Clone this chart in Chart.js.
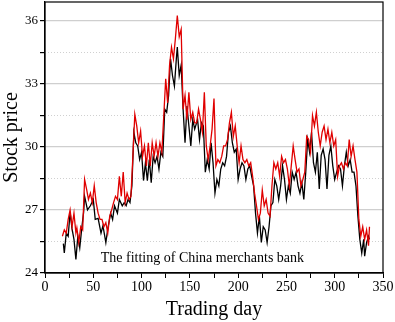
<!DOCTYPE html>
<html>
<head>
<meta charset="utf-8">
<script src="https://cdn.jsdelivr.net/npm/chart.js@4/dist/chart.umd.min.js"></script>
<style>
  html, body { margin: 0; padding: 0; background: #fff; }
  #wrap { width: 395px; height: 322px; }
</style>
</head>
<body>
<div id="wrap"><canvas id="stockChart"></canvas></div>
<script>
// actual closing price (black)
const daysActual = [19, 20, 22, 24, 26, 28, 30, 32, 34, 36, 38, 40, 41, 44, 47, 50, 52, 55, 58, 60,
    63, 65, 68, 70, 72, 75, 77, 80, 82, 84, 86, 88, 90, 92, 94, 96, 98, 100, 102, 104,
    106, 108, 110, 112, 114, 116, 118, 120, 122, 124, 126, 128, 130, 132, 134, 136, 137, 139, 141, 143,
    145, 147, 149, 151, 153, 155, 158, 160, 162, 164, 166, 168, 170, 172, 174, 176, 178, 180, 182, 184,
    186, 188, 190, 192, 194, 196, 198, 200, 202, 204, 206, 208, 210, 212, 214, 216, 218, 220, 222, 224,
    226, 228, 230, 232, 234, 236, 238, 240, 242, 244, 246, 248, 250, 252, 254, 256, 258, 260, 262, 264,
    266, 268, 270, 272, 274, 276, 278, 280, 282, 284, 286, 288, 290, 292, 294, 296, 298, 300, 302, 304,
    306, 308, 310, 312, 314, 316, 318, 320, 322, 324, 326, 328, 330, 331, 333, 335, 336];
const priceActual = [25.4, 24.95, 25.9, 25.75, 26.9, 26.1, 25.6, 24.65, 25.75, 25.2, 26.1, 26.9, 27.65, 27.0, 27.2, 27.5, 26.55, 26.6, 25.9, 26.25,
    25.45, 26.1, 26.85, 26.55, 27.2, 26.85, 27.5, 27.2, 27.35, 27.2, 27.5, 27.35, 28.15, 30.7, 30.2, 30.05, 29.4, 29.75, 28.4, 29.25,
    28.4, 29.4, 28.3, 29.55, 29.25, 29.55, 28.95, 29.75, 29.55, 31.8, 31.65, 32.45, 34.2, 33.4, 32.9, 34.2, 34.75, 33.4, 33.9, 31.8,
    30.2, 31.95, 31.0, 30.05, 31.3, 30.85, 31.3, 30.35, 31.15, 31.0, 28.8, 29.4, 28.95, 30.2, 29.25, 27.8, 28.45, 28.15, 28.95, 29.25,
    29.1, 29.55, 30.7, 31.0, 30.2, 29.75, 29.9, 28.45, 28.95, 29.25, 29.1, 28.45, 28.95, 29.1, 28.6, 28.15, 26.85, 25.9, 26.7, 25.45,
    26.2, 26.05, 25.45, 26.2, 27.2, 27.35, 28.45, 28.15, 27.5, 28.15, 29.1, 28.45, 27.5, 28.15, 27.8, 28.8, 28.45, 28.8, 28.15, 27.8,
    28.3, 27.5, 28.8, 30.35, 29.75, 30.7, 29.25, 28.8, 29.75, 28.0, 29.6, 29.9, 29.4, 28.0, 29.6, 30.05, 29.1, 28.45, 28.8, 29.1,
    28.95, 28.15, 29.1, 29.75, 29.1, 29.4, 28.8, 28.8, 28.15, 26.7, 25.6, 24.95, 25.6, 24.8, 25.45, 25.75, 25.6];

// fitted price (red)
const daysFitted = [18, 20, 22, 24, 26, 28, 30, 32, 33, 35, 37, 39, 41, 43, 45, 47, 49, 51, 53, 55,
    57, 59, 61, 63, 65, 67, 69, 71, 73, 75, 77, 79, 81, 83, 85, 87, 89, 91, 93, 95,
    97, 99, 101, 103, 105, 107, 109, 111, 113, 115, 117, 119, 121, 123, 125, 127, 129, 131, 133, 135,
    137, 139, 141, 143, 145, 147, 149, 151, 153, 155, 157, 159, 161, 163, 165, 167, 169, 171, 173, 175,
    177, 179, 181, 183, 185, 187, 189, 191, 193, 195, 197, 199, 201, 203, 205, 207, 209, 211, 213, 215,
    217, 219, 221, 223, 225, 227, 229, 231, 233, 235, 237, 239, 241, 243, 245, 247, 249, 251, 253, 255,
    257, 259, 261, 263, 265, 267, 269, 271, 273, 275, 277, 279, 281, 283, 285, 287, 289, 291, 293, 295,
    297, 299, 301, 303, 305, 307, 309, 311, 313, 315, 317, 319, 321, 323, 325, 327, 329, 331, 333, 335, 336];
const priceFitted = [25.75, 26.05, 25.9, 26.55, 27.0, 26.2, 26.85, 25.9, 26.15, 25.45, 26.2, 26.05, 28.45, 28.0, 27.5, 27.8, 27.35, 28.15, 27.35, 26.85,
    26.55, 26.55, 26.2, 26.4, 25.9, 26.7, 27.0, 27.35, 27.65, 27.5, 28.6, 27.65, 28.8, 27.35, 27.8, 27.5, 27.65, 29.55, 31.55, 31.0,
    30.2, 30.75, 29.55, 30.05, 29.1, 30.2, 29.1, 30.2, 29.55, 30.2, 29.55, 30.2, 29.75, 31.5, 33.25, 32.1, 33.9, 34.75, 34.2, 35.15,
    36.25, 35.25, 35.6, 31.8, 32.45, 31.3, 32.6, 31.3, 31.65, 31.15, 31.15, 31.8, 31.3, 30.7, 32.6, 30.05, 29.4, 30.05, 30.85, 32.3,
    29.1, 29.4, 29.25, 29.55, 30.05, 30.05, 30.35, 31.15, 31.65, 30.5, 31.0, 30.05, 29.25, 30.05, 29.4, 29.25, 29.4, 29.1, 29.25, 28.6,
    27.8, 27.2, 26.55, 26.85, 27.95, 27.2, 27.5, 26.85, 26.7, 28.15, 29.25, 28.95, 29.25, 28.6, 29.55, 29.25, 29.4, 28.95, 28.15, 29.1,
    30.05, 29.4, 28.8, 28.95, 28.15, 28.45, 28.8, 30.5, 30.35, 29.75, 31.5, 31.0, 31.65, 30.7, 30.05, 30.7, 31.0, 30.35, 30.85, 30.2,
    30.7, 30.05, 30.35, 28.6, 29.1, 29.25, 28.95, 29.25, 29.1, 30.35, 29.55, 30.05, 29.4, 28.8, 26.55, 25.75, 26.2, 25.6, 26.05, 25.3, 26.2];

const xTicks = [0, 25, 50, 75, 100, 125, 150, 175, 200, 225, 250, 275, 300, 325, 350];
const yTicks = [24, 25.5, 27, 28.5, 30, 31.5, 33, 34.5, 36];
const noteText = 'The fitting of China merchants bank';

const serif = '"Liberation Serif", "Times New Roman", serif';

function toPoints(xs, ys) {
    return xs.map((x, i) => ({ x: x, y: ys[i] }));
}

// dotted minor grid, frame and note text
const decorations = {
    id: 'decorations',
    beforeDatasetsDraw(chart) {
        const { ctx, chartArea, scales } = chart;
        ctx.save();
        ctx.strokeStyle = '#d0d0d0';
        ctx.lineWidth = 1;
        ctx.setLineDash([1, 2]);
        yTicks.forEach(v => {
            if (v % 3 === 0) return;
            const y = Math.round(scales.y.getPixelForValue(v)) + 0.5;
            ctx.beginPath();
            ctx.moveTo(chartArea.left, y);
            ctx.lineTo(chartArea.right, y);
            ctx.stroke();
        });
        ctx.restore();
    },
    afterDraw(chart) {
        const { ctx, chartArea, scales } = chart;
        ctx.save();
        ctx.strokeStyle = '#000';
        ctx.lineWidth = 1.2;
        ctx.strokeRect(chartArea.left, chartArea.top, chartArea.right - chartArea.left, chartArea.bottom - chartArea.top);
        ctx.fillStyle = '#000';
        ctx.font = '14px ' + serif;
        ctx.textAlign = 'center';
        ctx.textBaseline = 'middle';
        ctx.fillText(noteText, scales.x.getPixelForValue(163), scales.y.getPixelForValue(24.7));
        ctx.restore();
    }
};

new Chart(document.getElementById('stockChart'), {
    type: 'line',
    data: {
        datasets: [{
            label: 'Fitted',
            data: toPoints(daysFitted, priceFitted),
            borderColor: '#e00000',
            borderWidth: 1.3,
            pointRadius: 0,
            fill: false,
            tension: 0
        }, {
            label: 'Actual',
            data: toPoints(daysActual, priceActual),
            borderColor: '#000000',
            borderWidth: 1.3,
            pointRadius: 0,
            fill: false,
            tension: 0
        }]
    },
    options: {
        responsive: true,
        maintainAspectRatio: false,
        animation: false,
        layout: { padding: { top: 2, right: 12, left: 0, bottom: 0 } },
        plugins: {
            legend: { display: false },
            tooltip: { enabled: false }
        },
        scales: {
            x: {
                type: 'linear',
                min: 0,
                max: 350,
                afterBuildTicks: scale => { scale.ticks = xTicks.map(v => ({ value: v })); },
                afterFit: scale => { scale.height = 49; scale.paddingLeft = 0; scale.paddingRight = 0; },
                border: { color: '#000', width: 1.2 },
                grid: {
                    drawOnChartArea: false,
                    drawTicks: true,
                    tickLength: 5,
                    tickColor: '#000'
                },
                ticks: {
                    color: '#000',
                    padding: 1,
                    maxRotation: 0,
                    autoSkip: false,
                    font: { family: serif, size: 14 },
                    callback: v => (v % 50 === 0 ? v : '')
                },
                title: {
                    display: true,
                    text: 'Trading day',
                    color: '#000',
                    font: { family: serif, size: 20 },
                    padding: { top: 0, bottom: 0 }
                }
            },
            y: {
                type: 'linear',
                min: 24,
                max: 36.9,
                afterBuildTicks: scale => { scale.ticks = yTicks.map(v => ({ value: v })); },
                afterFit: scale => { scale.width = 45; scale.paddingTop = 0; scale.paddingBottom = 0; },
                border: { color: '#000', width: 1.2 },
                grid: {
                    color: ctx => (ctx.tick && ctx.tick.value % 3 === 0 ? '#cfcfcf' : 'rgba(0,0,0,0)'),
                    lineWidth: 1.2,
                    drawTicks: true,
                    tickLength: 5,
                    tickColor: '#000'
                },
                ticks: {
                    color: '#000',
                    padding: 2,
                    autoSkip: false,
                    font: { family: serif, size: 13 },
                    callback: v => (v % 3 === 0 ? v : '')
                },
                title: {
                    display: true,
                    text: 'Stock price',
                    color: '#000',
                    font: { family: serif, size: 20 },
                    padding: { top: 0, bottom: 0 }
                }
            }
        }
    },
    plugins: [decorations]
});
</script>
</body>
</html>
